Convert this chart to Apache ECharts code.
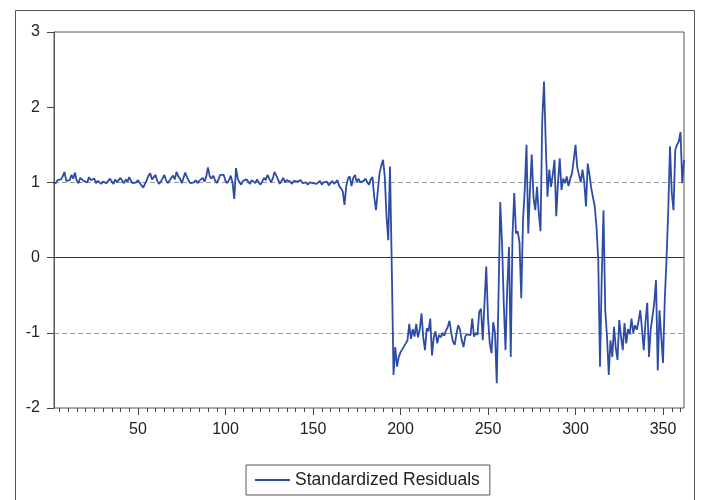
<!DOCTYPE html>
<html>
<head>
<meta charset="utf-8">
<script src="https://cdn.jsdelivr.net/npm/echarts@6/dist/echarts.min.js"></script>
<style>
html, body { margin: 0; padding: 0; background: #fff; }
#main { width: 701px; height: 500px; }
</style>
</head>
<body>
<div id="main"></div>
<script>
// observation numbers start at 1
const firstObs = 1;
// standardized residuals (10 per row)
const residuals = [
    1.00, 1.02, 0.99, 1.03, 1.01, 1.04, 1.08, 1.14, 1.02, 1.00,
    1.03, 1.10, 1.05, 1.13, 1.02, 0.99, 1.06, 1.08, 1.02, 1.04,
    1.00, 1.07, 1.03, 1.01, 1.05, 0.99, 1.02, 1.00, 0.98, 1.01,
    1.03, 0.99, 1.02, 1.05, 1.01, 0.98, 1.04, 1.00, 1.03, 1.06,
    1.02, 0.99, 1.04, 1.01, 1.07, 1.02, 0.99, 1.01, 1.00, 1.03,
    1.01, 0.96, 0.93, 0.94, 1.03, 1.09, 1.12, 1.04, 1.06, 1.10,
    1.02, 0.98, 1.01, 1.05, 1.10, 1.03, 0.99, 1.00, 1.06, 1.09,
    1.04, 1.14, 1.08, 1.05, 0.99, 1.06, 1.13, 1.07, 1.02, 0.99,
    0.97, 1.00, 1.03, 0.99, 1.02, 1.04, 1.06, 1.01, 1.08, 1.20,
    1.08, 1.05, 1.09, 1.03, 0.99, 1.04, 1.10, 1.08, 1.10, 1.02,
    0.99, 1.03, 1.09, 1.00, 0.78, 1.19, 1.05, 1.00, 0.97, 1.02,
    1.00, 1.04, 1.01, 0.98, 1.03, 1.01, 0.99, 1.04, 1.00, 0.97,
    1.01, 1.06, 1.03, 1.10, 1.08, 1.00, 1.05, 1.14, 1.09, 1.04,
    0.98, 1.02, 1.06, 1.00, 1.03, 1.05, 1.01, 0.98, 1.02, 1.04,
    1.01, 1.00, 1.03, 0.99, 1.01, 1.00, 0.97, 1.00, 1.02, 0.99,
    1.01, 0.98, 1.00, 1.02, 0.97, 1.00, 0.99, 1.01, 0.96, 0.99,
    1.02, 0.98, 0.97, 1.03, 0.95, 0.92, 0.88, 0.70, 0.95, 1.05,
    1.08, 0.95, 1.06, 1.10, 1.00, 1.05, 1.00, 0.98, 1.02, 1.05,
    1.00, 0.97, 1.04, 1.07, 0.80, 0.63, 0.88, 1.12, 1.22, 1.30,
    1.08, 0.55, 0.23, 1.21, -0.10, -1.56, -1.19, -1.45, -1.32, -1.26,
    -1.22, -1.18, -1.14, -1.10, -0.88, -1.08, -0.95, -1.05, -0.88, -1.06,
    -0.96, -0.74, -1.06, -1.23, -0.94, -0.98, -0.81, -1.30, -1.06, -0.98,
    -1.14, -1.03, -1.06, -1.00, -1.04, -0.97, -0.92, -0.84, -1.00, -1.12,
    -1.16, -1.01, -0.90, -0.96, -1.10, -1.19, -1.05, -1.02, -1.00, -1.03,
    -0.81, -1.05, -1.00, -1.03, -0.72, -0.68, -1.10, -0.60, -0.12, -0.80,
    -1.14, -1.27, -0.86, -1.00, -1.67, -0.52, 0.74, 0.20, -0.60, -1.23,
    -0.40, 0.14, -1.32, 0.30, 0.86, 0.32, 0.35, 0.20, -0.54, 0.50,
    0.90, 1.50, 0.32, 0.90, 1.37, 0.80, 0.63, 0.94, 0.60, 0.35,
    1.83, 2.34, 1.52, 0.81, 1.17, 0.94, 1.10, 1.30, 0.55, 1.00,
    1.32, 0.90, 1.05, 0.99, 1.08, 0.95, 1.05, 1.12, 1.30, 1.50,
    1.20, 1.10, 1.00, 1.17, 1.00, 0.68, 1.25, 1.10, 0.92, 0.94,
    0.68, 0.41, -0.03, -1.45, -0.25, 0.63, -0.70, -1.05, -1.56, -1.10,
    -1.32, -0.92, -1.20, -1.36, -0.83, -1.05, -1.23, -0.87, -1.14, -0.95,
    -1.02, -0.81, -1.00, -0.90, -0.96, -0.85, -0.70, -0.95, -1.23, -0.85,
    -0.60, -1.32, -0.95, -0.78, -0.60, -0.30, -1.50, -0.70, -1.05, -1.40,
    -0.56, -0.03, 0.63, 1.48, 0.86, 0.63, 1.43, 1.50, 1.54, 1.67,
    0.99, 1.30
];
const xLabelValues = [50, 100, 150, 200, 250, 300, 350];
const yTicks = [-2, -1, 0, 1, 2, 3];
const dashedRefs = [-1, 1];
const zeroRef = 0;
const seriesName = 'Standardized Residuals';

// small ticks every 5 obs
const xMinorTicks = [];
for (let t = 5; t <= 360; t += 5) xMinorTicks.push(t);

const lineData = residuals.map((v, k) => [firstObs + k, v]);

const fontFamily = '"Liberation Sans", Arial, sans-serif';
const frameColor = '#555';
const lineColor = '#2d4ca6';

var chart = echarts.init(document.getElementById('main'));
var option = {
    animation: false,
    textStyle: { fontFamily: fontFamily },
    grid: {
        left: 54,
        right: 17,
        top: 32,
        bottom: 92,
        show: true,
        borderColor: frameColor,
        borderWidth: 1,
        backgroundColor: '#fff'
    },
    graphic: [
        {
            type: 'rect',
            silent: true,
            z: -10,
            shape: { x: 15.5, y: 10.5, width: 679, height: 500 },
            style: { fill: 'none', stroke: frameColor, lineWidth: 1 }
        }
    ],
    legend: {
        left: 246,
        top: 465,
        itemWidth: 35,
        itemHeight: 2,
        itemGap: 8,
        padding: [6, 10, 6, 9],
        borderColor: frameColor,
        borderWidth: 1,
        borderRadius: 0,
        textStyle: { fontSize: 17.5, color: '#222', fontFamily: fontFamily },
        data: [{ name: seriesName, icon: 'rect', itemStyle: { color: lineColor } }]
    },
    xAxis: [
        {
            type: 'value',
            min: 2,
            max: 362,
            position: 'bottom',
            axisLine: { show: false, onZero: false },
            splitLine: { show: false },
            axisTick: {
                show: true,
                length: 4,
                customValues: xMinorTicks,
                lineStyle: { color: '#444' }
            },
            axisLabel: {
                customValues: xLabelValues,
                fontSize: 16,
                color: '#222',
                margin: 14
            }
        },
        {
            type: 'value',
            min: 2,
            max: 362,
            position: 'bottom',
            axisLine: { show: false, onZero: false },
            splitLine: { show: false },
            axisTick: {
                show: true,
                length: 7,
                customValues: xLabelValues,
                lineStyle: { color: '#444' }
            },
            axisLabel: { show: false }
        }
    ],
    yAxis: {
        type: 'value',
        min: yTicks[0],
        max: yTicks[yTicks.length - 1],
        interval: 1,
        axisLine: { show: true, onZero: false, lineStyle: { color: frameColor } },
        axisTick: { show: true, length: 7, lineStyle: { color: '#444' } },
        splitLine: { show: false },
        axisLabel: { fontSize: 16, color: '#222', margin: 14 }
    },
    series: [
        {
            name: seriesName,
            type: 'line',
            xAxisIndex: 0,
            data: lineData,
            symbol: 'none',
            clip: true,
            color: lineColor,
            lineStyle: { color: lineColor, width: 1.8 },
            markLine: {
                silent: true,
                symbol: 'none',
                label: { show: false },
                z: 1,
                data: [
                    { yAxis: zeroRef, lineStyle: { color: '#333', type: 'solid', width: 1.2 } }
                ].concat(dashedRefs.map(v => ({
                    yAxis: v,
                    lineStyle: { color: '#999', type: [5, 3], width: 1 }
                })))
            }
        }
    ]
};
chart.setOption(option);
</script>
</body>
</html>
